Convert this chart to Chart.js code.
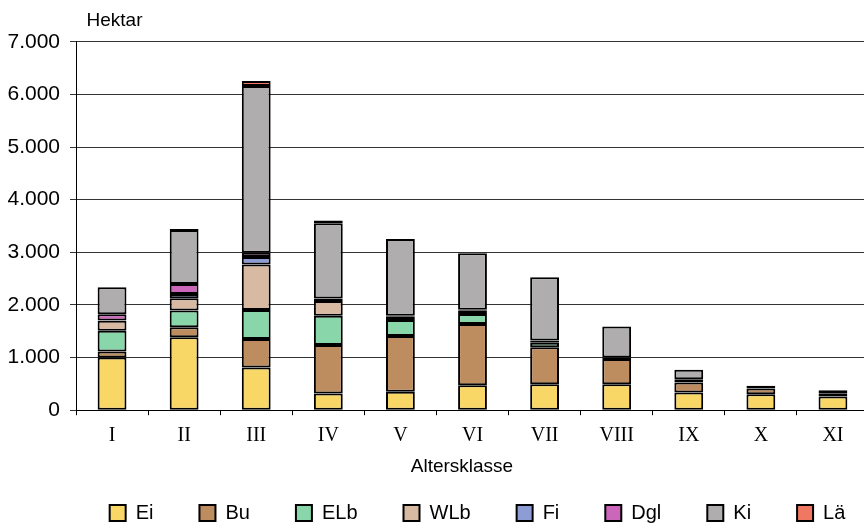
<!DOCTYPE html>
<html>
<head>
<meta charset="utf-8">
<title>Altersklassen</title>
<script src="https://cdn.jsdelivr.net/npm/chart.js@4.4.1/dist/chart.umd.min.js"></script>
<style>
  html, body { margin: 0; padding: 0; background: #fff; overflow: hidden; }
  #wrap { width: 872px; height: 526px; }
  canvas { display: block; }
</style>
</head>
<body>
<div id="wrap"><canvas id="altersklassen" width="872" height="526"></canvas></div>
<script>
/************************************************************
    Fläche je Baumart und Altersklasse (gestapelte Säulen)
*************************************************************/

var klassen = ['I', 'II', 'III', 'IV', 'V', 'VI', 'VII', 'VIII', 'IX', 'X', 'XI'];

// Hektar
var ei  = [1000, 1385,  810,  316,  349,  476,  495, 495, 337, 305, 261];
var bu  = [ 115,  190,  542,  922, 1061, 1162,  700, 476, 190, 108,  63];
var elb = [ 395,  318,  553,  558,  304,  191,   85,   0,   0,   0,   0];
var wlb = [ 190,  234,  865,  280,   60,   60,    0,   0,   0,   0,   0];
var fi  = [   5,   83,  139,    0,    0,    0,    0,   0,   0,   0,   0];
var dgl = [ 120,  190,   81,   45,   20,   20,   45,  30,  60,   0,   0];
var ki  = [ 510, 1023, 3170, 1433, 1460, 1074, 1203, 590, 180,  50,  57];
var lae = [   0,   20,   95,   50,    0,    0,    0,   0,   0,   0,   0];

var yMax = 7000;
var yStep = 1000;

//Tausenderpunkt wie im Original: 7.000
function mitPunkt(x) {
    return x.toString().replace(/\B(?=(\d{3})+(?!\d))/g, ".");
}

function serie(name, werte, farbe) {
    return {
        label: name,
        data: werte,
        backgroundColor: farbe,
        borderColor: '#000000',
        borderWidth: 2,
        borderSkipped: false,
        barPercentage: 0.4,
        categoryPercentage: 1.0
    };
}

// Legende sitzt im Original weiter rechts, die Zeile liegt bei y ~ 513
var legendeVerschieben = {
    id: 'legendeVerschieben',
    afterLayout: function (chart) {
        var lg = chart.legend;
        lg.top -= 47;          // bottom bleibt, sonst schneidet clipArea die Zeile ab
        lg.left += 43;
        lg.right += 43;
    }
};

Chart.defaults.font.family = "'Liberation Sans', Arial, sans-serif";
Chart.defaults.color = '#000';

new Chart(document.getElementById("altersklassen"), {
    type: 'bar',
    data: {
        labels: klassen,
        datasets: [
            serie('Ei',  ei,  '#f9d766'),
            serie('Bu',  bu,  '#bd8c5f'),
            serie('ELb', elb, '#88d6aa'),
            serie('WLb', wlb, '#d8baa2'),
            serie('Fi',  fi,  '#8e9cd6'),
            serie('Dgl', dgl, '#cc66bb'),
            serie('Ki',  ki,  '#afadad'),
            serie('Lä',  lae, '#f07862')
        ]
    },
    options: {
        responsive: false,
        animation: false,
        layout: { padding: { left: 0, right: 3, top: 0, bottom: 0 } },
        plugins: {
            title: {
                display: true,
                text: '\u00a0\u00a0Hektar',
                align: 'start',
                fullSize: false,
                color: '#000',
                font: { size: 19, weight: 'normal' },
                padding: { top: 9, bottom: 10 }
            },
            legend: {
                position: 'bottom',
                maxHeight: 22,
                labels: {
                    boxWidth: 16,
                    boxHeight: 16,
                    padding: 46,
                    color: '#000',
                    font: { size: 20 }
                }
            },
            tooltip: { enabled: false }
        },
        scales: {
            x: {
                stacked: true,
                grid: { drawOnChartArea: false, drawTicks: true, tickLength: 5, color: '#000', offset: true },
                border: { color: '#000', width: 1 },
                ticks: {
                    color: '#000',
                    padding: 9,
                    maxRotation: 0,
                    autoSkip: false,
                    font: { family: "'Liberation Serif', 'Times New Roman', serif", size: 20 }
                },
                title: {
                    display: true,
                    text: 'Altersklasse\u00a0\u00a0\u00a0\u00a0',
                    color: '#000',
                    font: { size: 19 },
                    padding: { top: -2, bottom: 26 }
                }
            },
            y: {
                stacked: true,
                min: 0,
                max: yMax,
                grid: { color: '#333', tickLength: 6 },
                border: { color: '#000', width: 1 },
                ticks: {
                    stepSize: yStep,
                    padding: 10,
                    color: '#000',
                    font: { size: 21 },
                    callback: function (v) { return mitPunkt(v); }
                },
                afterFit: function (scale) { scale.width = 76; }
            }
        }
    },
    plugins: [legendeVerschieben]
});
</script>
</body>
</html>
